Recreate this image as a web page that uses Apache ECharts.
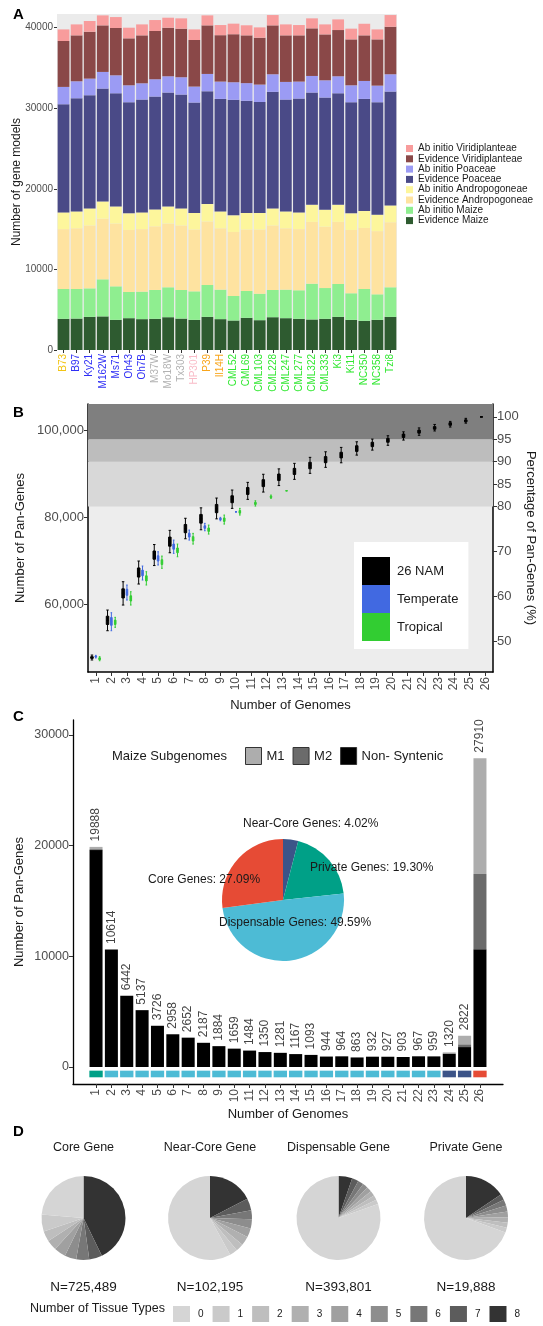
<!DOCTYPE html>
<html><head><meta charset="utf-8">
<script src="https://cdn.jsdelivr.net/npm/echarts@6/dist/echarts.min.js"></script>
<style>html,body{margin:0;padding:0;background:#fff}#c{width:543px;height:1326px}</style>
</head><body><div id="c"></div>
<script>
// ================= DATA =================
// ---- Panel A: gene models per genome (segment heights, stacked bottom -> top) ----
const genomes = ['B73','B97','Ky21','M162W','Ms71','Oh43','Oh7B','M37W','Mo18W','Tx303','HP301','P39','Il14H','CML52','CML69','CML103','CML228','CML247','CML277','CML322','CML333','Ki3','Ki11','NC350','NC358','Tzi8'];
const genomeGroups = ['stiff','temperate','temperate','temperate','temperate','temperate','temperate','mixed','mixed','mixed','popcorn','sweet','sweet','tropical','tropical','tropical','tropical','tropical','tropical','tropical','tropical','tropical','tropical','tropical','tropical','tropical'];
const evidenceMaize   = [3870,3900,4110,4170,3740,3950,3830,3870,4070,3900,3740,4110,3830,3660,3990,3700,4070,3950,3870,3790,3870,4110,3740,3620,3740,4110];
const abInitioMaize   = [3700,3670,3540,4600,4160,3250,3410,3580,3710,3550,3540,3960,3660,3050,3330,3290,3380,3540,3540,4440,3820,4080,3300,3950,3170,3670];
const evidenceAndro   = [7430,7530,7800,7530,7800,7700,7760,7900,7920,8000,7670,7880,7610,7940,7630,7960,8000,7610,7590,7670,7610,7710,7860,7580,7840,8070];
const abInitioAndro   = [2080,2100,2120,2130,2110,2060,2080,2100,2110,2120,2050,2160,2100,2060,2050,2050,2120,2100,2080,2120,2110,2120,2060,2090,2040,2090];
const evidencePoaceae = [13420,14040,14050,14010,14050,13790,14000,14000,14140,14130,13710,14000,13960,14340,13930,13780,14470,13880,14120,13930,13920,13840,13790,13920,13960,14130];
const abInitioPoaceae = [2150,2110,2060,2070,2230,2100,2020,2150,2020,2150,1980,2150,2150,2180,2190,2160,2180,2190,2110,2060,2140,2110,2100,2230,2060,2150];
const evidenceViridi  = [5700,5700,5820,5780,5870,5830,5950,5990,6030,6030,5780,6030,5760,5960,5930,5820,6070,5780,5740,5910,5700,5740,5700,5660,5740,5900];
const abInitioViridi  = [1440,1360,1330,1240,1360,1320,1360,1360,1240,1280,1320,1240,1260,1310,1250,1280,1280,1360,1280,1240,1240,1320,1330,1440,1240,1450];
const geneModelTicks = [0,10000,20000,30000,40000];

// ---- Panel B: pan-gene accumulation, [min, Q1, median, Q3, max] per number of genomes ----
const genomeCountLabels = ['1','2','3','4','5','6','7','8','9','10','11','12','13','14','15','16','17','18','19','20','21','22','23','24','25','26'];
const nam26 = [
 [47130,47500,47700,47900,48270],[53860,55300,56200,57200,58620],[59770,61400,62500,63500,65130],
 [64600,66200,67200,68300,69890],[68850,70300,71200,72200,73680],[71790,73300,74300,75400,76940],
 [75010,76400,77300,78300,79720],[77080,78600,79600,80600,82120],[79590,81000,81900,82900,84370],
 [82000,83300,84100,84900,86210],[84070,85200,86000,86800,87980],[85750,87000,87800,88600,89840],
 [87240,88400,89200,89900,91080],[88670,89800,90500,91200,92350],[90050,91100,91900,92600,93730],
 [91430,92500,93200,93900,95010],[92480,93600,94300,94900,96020],[94250,95100,95700,96400,97310],
 [95400,96200,96700,97200,97930],[96500,97200,97600,98100,98700],[97700,98300,98700,99100,99600],
 [98800,99300,99700,100000,100500],[99800,100200,100500,100800,101300],[100700,101100,101400,101700,102000],
 [101600,101900,102150,102350,102700],[103033,103033,103033,103033,103033]
];
const temperate = [
 [47600,47800,47900,48050,48200],[53860,55100,56000,56900,58000],[60920,62000,62700,63400,64370],
 [65520,66500,67100,67800,68740],[68970,69900,70500,71100,72020],[71650,72600,73200,73800,74710],
 [74710,75400,75900,76300,77010],[76850,77400,77700,78000,78550],[79150,79400,79550,79700,79930],
 [81200,81200,81200,81200,81200]
];
const tropical = [
 [46960,47200,47400,47650,47900],[54640,55300,55800,56300,56940],[59770,60700,61300,61900,62830],
 [64370,65300,65900,66500,67430],[68210,69100,69600,70200,71030],[70870,71800,72300,72900,73790],
 [73790,74500,75000,75500,76250],[76090,76700,77100,77500,78160],[78390,79000,79400,79800,80460],
 [80460,80900,81200,81500,82000],[82530,82900,83100,83400,83750],[84300,84500,84650,84800,85060],
 [86050,86050,86050,86050,86050]
];
const totalPanGenes = 103033;
const panAxisRange = [44370, 106000];
const panTicks = [60000, 80000, 100000];
const pctTicks = [50, 60, 70, 80, 85, 90, 95, 100];
const pctBands = [[80, 90], [90, 95], [95, 100]];

// ---- Panel C: pan-genes by number of genomes ----
const genomeCounts = [1,2,3,4,5,6,7,8,9,10,11,12,13,14,15,16,17,18,19,20,21,22,23,24,25,26];
const panGeneCounts = [19888,10614,6442,5137,3726,2958,2652,2187,1884,1659,1484,1350,1281,1167,1093,944,964,863,932,927,903,967,959,1320,2822,27910];
const nonSyntenic = [19598,10614,6442,5137,3726,2958,2652,2187,1884,1659,1484,1350,1281,1167,1093,944,964,863,932,927,903,967,959,1180,1802,10630];
const m2Counts    = [90,0,0,0,0,0,0,0,0,0,0,0,0,0,0,0,0,0,0,0,0,0,0,60,250,6800];
const m1Counts    = [200,0,0,0,0,0,0,0,0,0,0,0,0,0,0,0,0,0,0,0,0,0,0,80,770,10480];
const tileGroups = ['Private','Dispensable','Dispensable','Dispensable','Dispensable','Dispensable','Dispensable','Dispensable','Dispensable','Dispensable','Dispensable','Dispensable','Dispensable','Dispensable','Dispensable','Dispensable','Dispensable','Dispensable','Dispensable','Dispensable','Dispensable','Dispensable','Dispensable','Near-Core','Near-Core','Core'];
const countTicks = [0, 10000, 20000, 30000];
const pieCategories = ['Near-Core Genes','Private Genes','Dispensable Genes','Core Genes'];
const pieShares = [4.02, 19.30, 49.59, 27.09];

// ---- Panel D: tissue-type expression (% of genes, clockwise from 12 o'clock: 8 .. 0) ----
const tissueTypes = ['8','7','6','5','4','3','2','1','0'];
const coreTissue        = [42.8, 5.0, 5.0, 4.5, 4.5, 4.0, 4.0, 6.5, 23.7];
const nearCoreTissue    = [17.4, 4.6, 3.5, 3.5, 3.5, 3.5, 3.0, 3.0, 58.0];
const dispensableTissue = [5.3, 2.5, 2.2, 2.0, 2.0, 2.0, 1.8, 1.8, 80.4];
const privateTissue     = [15.6, 2.2, 2.4, 2.3, 2.2, 2.1, 1.9, 1.9, 69.4];
const pieTitles = ['Core Gene','Near-Core Gene','Dispensable Gene','Private Gene'];
const pieTotals = [725489, 102195, 393801, 19888];
const legendTissueOrder = ['0','1','2','3','4','5','6','7','8'];

// ================= STYLE =================
const FONT = "'Liberation Sans', Arial, Helvetica, sans-serif";
const TICKC = '#4D4D4D', TXT = '#1a1a1a';
const groupColors = {stiff:'#F2C414', temperate:'#2F2FF5', mixed:'#B2B2B2', popcorn:'#F9BCC8', sweet:'#F8A51C', tropical:'#33E833'};
const aLayers = [
  {name:'Evidence Maize', vals:evidenceMaize, color:'#2E5B30'},
  {name:'Ab initio Maize', vals:abInitioMaize, color:'#8FEE90'},
  {name:'Evidence Andropogoneae', vals:evidenceAndro, color:'#FEE3A0'},
  {name:'Ab initio Andropogoneae', vals:abInitioAndro, color:'#FDF69C'},
  {name:'Evidence Poaceae', vals:evidencePoaceae, color:'#4A4A87'},
  {name:'Ab initio Poaceae', vals:abInitioPoaceae, color:'#9B9BF4'},
  {name:'Evidence Viridiplanteae', vals:evidenceViridi, color:'#8A4848'},
  {name:'Ab initio Viridiplanteae', vals:abInitioViridi, color:'#F89C9C'}
];
const tileColors = {'Private':'#00A087','Dispensable':'#4DBBD5','Near-Core':'#3C5488','Core':'#E64B35'};
const pieColors = ['#3C5488','#00A087','#4DBBD5','#E64B35'];
const greyLevels = {'0':'#D5D5D5','1':'#CACACA','2':'#BEBEBE','3':'#B0B0B0','4':'#A0A0A0','5':'#8D8D8D','6':'#777777','7':'#5C5C5C','8':'#333333'};
const bandColors = ['#D8D8D8','#BDBDBD','#7F7F7F'];

const chart = echarts.init(document.getElementById('c'), null, {renderer:'canvas'});
const pctMin = panAxisRange[0] / totalPanGenes * 100, pctMax = panAxisRange[1] / totalPanGenes * 100;
// panel C category axis: one empty padding slot on each side
const cCategories = [''].concat(genomeCounts.map(String), ['']);

function txt(text, x, y, o) {
  return {type:'text', x:x, y:y, silent:true, z:10,
    style:Object.assign({text:text, fill:TXT, fontSize:12, fontFamily:FONT, align:'left', verticalAlign:'middle'}, o || {})};
}

const series = [];
// Panel A
aLayers.forEach(l => series.push({
  name:l.name, type:'bar', stack:'a', xAxisIndex:0, yAxisIndex:0, barCategoryGap:'10%',
  data:l.vals, itemStyle:{color:l.color, borderWidth:0}, silent:true
}));
// Panel B bands
series.push({
  type:'line', xAxisIndex:1, yAxisIndex:2, data:[[0, 50]], showSymbol:false, lineStyle:{opacity:0}, silent:true, z:1,
  markArea:{silent:true, data: pctBands.map((b, i) => [
    {yAxis:b[0], itemStyle:{color:bandColors[i]}},
    {yAxis: i === pctBands.length - 1 ? pctMax : b[1]}
  ])}
});
[['26 NAM', nam26, '#000000', 2.5], ['Temperate', temperate, '#4169E1', 1.6], ['Tropical', tropical, '#32CD32', 1.6]].forEach(s => series.push({
  name:s[0], type:'boxplot', xAxisIndex:1, yAxisIndex:1, z:3, silent:true,
  encode:{x:0, y:[1,2,3,4,5]},
  data:s[1].map((q, i) => [i].concat(q)),
  boxWidth:[s[3], s[3]],
  itemStyle:{color:s[2], borderColor:s[2], borderWidth:1}
}));
// Panel C bars (category index i+1 because of the padding slot)
[['Non- Syntenic', nonSyntenic, '#000000'], ['M2', m2Counts, '#6B6B6B'], ['M1', m1Counts, '#ADADAD']].forEach(s => series.push({
  name:s[0], type:'bar', stack:'c', xAxisIndex:2, yAxisIndex:3, barWidth:13, silent:true,
  data:genomeCounts.map((g, i) => [i + 1, s[1][i]]), itemStyle:{color:s[2], borderWidth:0}
}));
series.push({
  type:'scatter', xAxisIndex:2, yAxisIndex:3, symbolSize:1, itemStyle:{color:'rgba(0,0,0,0)'}, silent:true, z:5,
  data:genomeCounts.map((g, i) => [i + 1, panGeneCounts[i]]),
  label:{show:true, position:'top', distance:5, rotate:90, align:'left', verticalAlign:'middle',
    fontSize:12, color:'#111', fontFamily:FONT, formatter:p => String(p.value[1])}
});
series.push({
  type:'custom', xAxisIndex:2, yAxisIndex:3, silent:true, z:4,
  data:genomeCounts.map((g, i) => [i + 1, 0]), encode:{x:0, y:1},
  renderItem:(params, api) => {
    const x = api.value(0);
    const top = api.coord([x, -330]);
    const bot = api.coord([x, -930]);
    const w = api.size([1, 0])[0] * 0.87;
    return {type:'rect', shape:{x:top[0] - w / 2, y:top[1], width:w, height:bot[1] - top[1]},
      style:{fill:tileColors[tileGroups[params.dataIndex]]}};
  }
});
// Panel C inset pie
const cPieCenter = [283, 900];
series.push({
  type:'pie', center:cPieCenter, radius:61, startAngle:90, clockwise:true, silent:true,
  label:{show:false}, labelLine:{show:false}, itemStyle:{borderWidth:0},
  data:pieCategories.map((n, i) => ({name:n, value:pieShares[i], itemStyle:{color:pieColors[i]}}))
});
// Panel D pies
const dCenters = [83.5, 210, 338.5, 466];
[coreTissue, nearCoreTissue, dispensableTissue, privateTissue].forEach((vals, k) => series.push({
  type:'pie', center:[dCenters[k], 1218], radius:42, startAngle:90, clockwise:true, silent:true,
  label:{show:false}, labelLine:{show:false}, itemStyle:{borderWidth:0},
  data:tissueTypes.map((t, i) => ({name:t, value:vals[i], itemStyle:{color:greyLevels[t]}}))
}));

// Graphic texts
const cPieLabelPos = [[243, 824], [310, 868], [219, 923], [148, 880]];
const graphics = [
  txt('A', 13, 15, {fontSize:15, fontWeight:'bold', fill:'#000'}),
  txt('B', 13, 413, {fontSize:15, fontWeight:'bold', fill:'#000'}),
  txt('C', 13, 717, {fontSize:15, fontWeight:'bold', fill:'#000'}),
  txt('D', 13, 1132, {fontSize:15, fontWeight:'bold', fill:'#000'}),
  txt('Maize Subgenomes', 112, 756, {fontSize:13}),
  txt('Number of Tissue Types', 30, 1309, {fontSize:12.5})
];
pieCategories.forEach((n, i) => graphics.push(
  txt(n + ': ' + pieShares[i].toFixed(2) + '%', cPieLabelPos[i][0], cPieLabelPos[i][1], {fontSize:12})));
pieTitles.forEach((t, k) => {
  graphics.push(txt(t, dCenters[k], 1148, {fontSize:12.5, align:'center'}));
  graphics.push(txt('N=' + pieTotals[k].toLocaleString('en-US'), dCenters[k], 1287, {fontSize:13.5, align:'center'}));
});

const plain = v => String(v);
const option = {
  animation:false,
  textStyle:{fontFamily:FONT},
  grid:[
    {left:57, top:14, width:340, height:336, show:true, backgroundColor:'#EBEBEB', borderWidth:0, outerBoundsMode:'none', containLabel:false},
    {left:88, top:404, width:405, height:268, show:true, backgroundColor:'#EDEDED', borderWidth:0, outerBoundsMode:'none', containLabel:false},
    {left:73, top:720, width:430, height:364, show:false, outerBoundsMode:'none', containLabel:false}
  ],
  xAxis:[
    {type:'category', gridIndex:0, data:genomes, axisLine:{show:false},
      axisTick:{show:true, length:3, alignWithLabel:true, lineStyle:{color:'#333'}},
      axisLabel:{interval:0, rotate:90, margin:4, fontSize:10, fontFamily:FONT, color:(v, i) => groupColors[genomeGroups[i]]}},
    {type:'category', gridIndex:1, data:genomeCountLabels,
      axisLine:{show:true, onZero:false, lineStyle:{color:'#000', width:1.5}},
      axisTick:{show:true, length:4, alignWithLabel:true, lineStyle:{color:'#333'}},
      axisLabel:{interval:0, rotate:90, margin:5, fontSize:12, color:TICKC},
      name:'Number of Genomes', nameLocation:'middle', nameGap:27, nameMoveOverlap:false, nameTextStyle:{fontSize:13, color:TXT}},
    {type:'category', gridIndex:2, data:cCategories,
      axisLine:{show:true, onZero:false, lineStyle:{color:'#000', width:1.3}},
      axisTick:{show:true, length:4, alignWithLabel:true, interval:(i) => i > 0 && i < cCategories.length - 1, lineStyle:{color:'#333'}},
      axisLabel:{interval:0, rotate:90, margin:5, fontSize:12, color:TICKC},
      name:'Number of Genomes', nameLocation:'middle', nameGap:24, nameMoveOverlap:false, nameTextStyle:{fontSize:13, color:TXT}}
  ],
  yAxis:[
    {type:'value', gridIndex:0, min:0, max:41700, splitLine:{show:false}, axisLine:{show:false},
      axisTick:{show:true, length:3, customValues:geneModelTicks, lineStyle:{color:'#333'}},
      axisLabel:{customValues:geneModelTicks, fontSize:10, margin:4, color:TICKC, formatter:plain},
      name:'Number of gene models', nameLocation:'middle', nameGap:34, nameMoveOverlap:false, nameTextStyle:{fontSize:12, color:TXT}},
    {type:'value', gridIndex:1, min:panAxisRange[0], max:panAxisRange[1], splitLine:{show:false},
      axisLine:{show:true, onZero:false, lineStyle:{color:'#000', width:1.5}},
      axisTick:{show:true, length:4, customValues:panTicks, lineStyle:{color:'#333'}},
      axisLabel:{customValues:panTicks, fontSize:13, margin:4, color:TICKC, formatter:v => Number(v).toLocaleString('en-US')},
      name:'Number of Pan-Genes', nameLocation:'middle', nameGap:61, nameMoveOverlap:false, nameTextStyle:{fontSize:13, color:TXT}},
    {type:'value', gridIndex:1, position:'right', min:pctMin, max:pctMax, splitLine:{show:false},
      axisLine:{show:true, onZero:false, lineStyle:{color:'#000', width:1.5}},
      axisTick:{show:true, length:4, customValues:pctTicks, lineStyle:{color:'#333'}},
      axisLabel:{customValues:pctTicks, fontSize:13, margin:4, color:TICKC, formatter:plain},
      name:'Percentage of Pan-Genes (%)', nameLocation:'middle', nameRotate:-90, nameGap:31, nameMoveOverlap:false, nameTextStyle:{fontSize:13, color:TXT}},
    {type:'value', gridIndex:2, min:-1536, max:31355, splitLine:{show:false},
      axisLine:{show:true, onZero:false, lineStyle:{color:'#000', width:1.3}},
      axisTick:{show:true, length:4, customValues:countTicks, lineStyle:{color:'#333'}},
      axisLabel:{customValues:countTicks, fontSize:12.5, margin:4, color:TICKC, formatter:plain},
      name:'Number of Pan-Genes', nameLocation:'middle', nameGap:47, nameMoveOverlap:false, nameTextStyle:{fontSize:13, color:TXT}}
  ],
  legend:[
    {left:406, top:143.5, orient:'vertical', padding:0, itemWidth:7, itemHeight:7, itemGap:0.3, selectedMode:false, icon:'rect',
      data:aLayers.slice().reverse().map(l => l.name), textStyle:{fontSize:10, lineHeight:7.3, color:TXT, fontFamily:FONT}},
    {left:354, top:542, orient:'vertical', padding:[15,10,8,8], itemWidth:26, itemHeight:26, itemGap:0, selectedMode:false, icon:'rect',
      backgroundColor:'#fff', data:['26 NAM','Temperate','Tropical'], textStyle:{fontSize:13, color:TXT, padding:[0,0,0,3], fontFamily:FONT}},
    {left:245, top:747, orient:'horizontal', padding:0, itemWidth:16, itemHeight:17, itemGap:8, selectedMode:false, icon:'rect',
      data:['M1','M2','Non- Syntenic'].map(n => ({name:n, itemStyle:{borderColor:'#333', borderWidth:1}})),
      textStyle:{fontSize:13, color:TXT, fontFamily:FONT}},
    {left:173, top:1306, orient:'horizontal', padding:0, itemWidth:17, itemHeight:16, itemGap:9, selectedMode:false, icon:'rect',
      data:legendTissueOrder, textStyle:{fontSize:10, color:TXT, padding:[0,0,0,3], fontFamily:FONT}}
  ],
  graphic:graphics,
  series:series
};
chart.setOption(option);
</script>
</body></html>
